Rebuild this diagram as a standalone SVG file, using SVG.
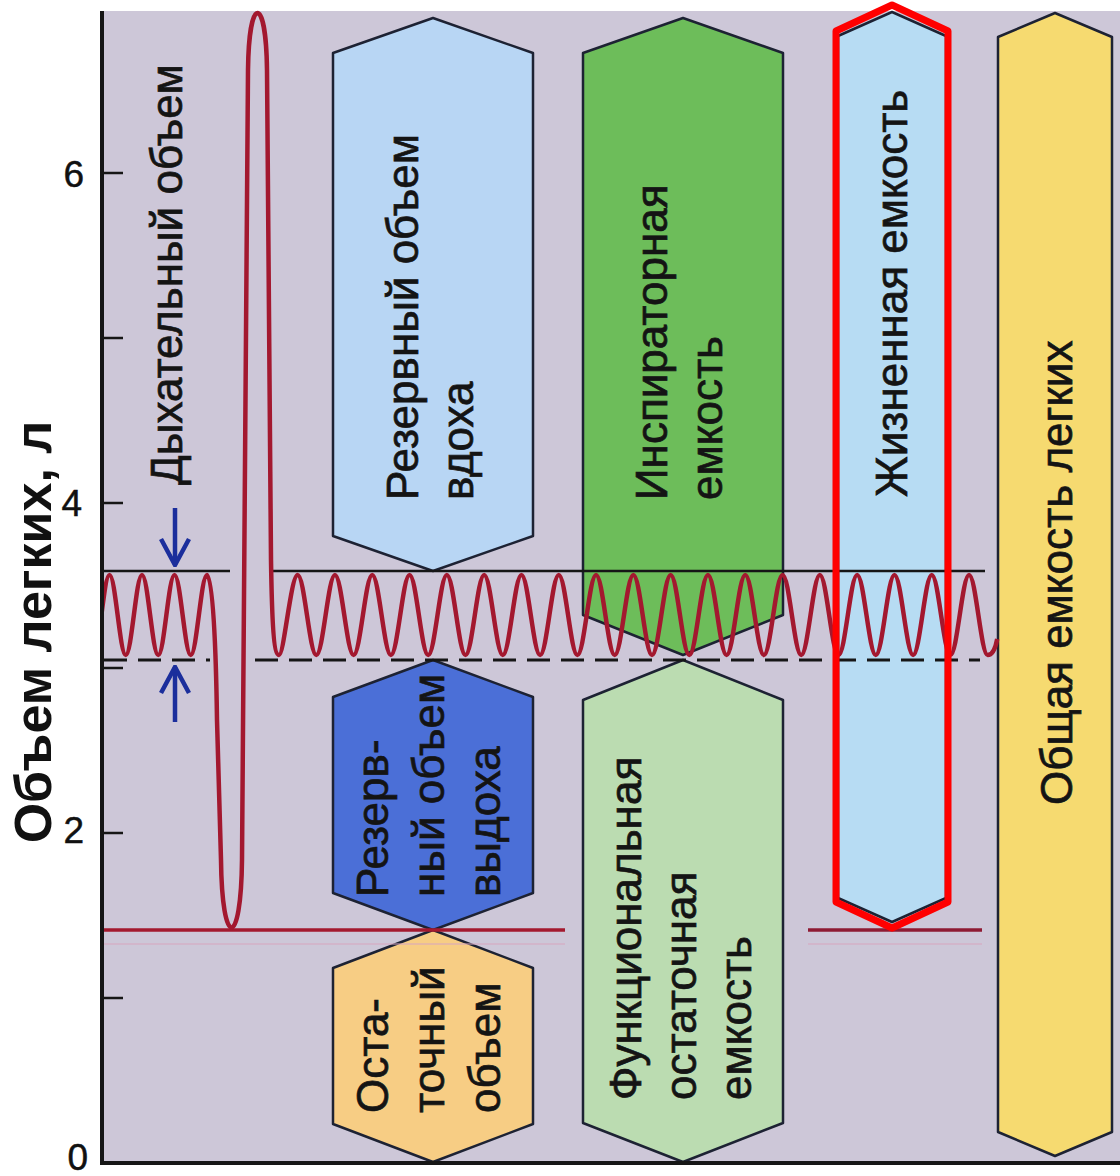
<svg xmlns="http://www.w3.org/2000/svg" width="1120" height="1176" viewBox="0 0 1120 1176">
<defs>
<style>
.hex{stroke:#1d2233;stroke-width:2.5;stroke-linejoin:round}
.lbl{font-family:"Liberation Sans",Arial,sans-serif;font-size:44px;fill:#141414;stroke:#141414;stroke-width:0.7}
.num{font-family:"Liberation Sans",Arial,sans-serif;font-size:37px;fill:#111;stroke:#111;stroke-width:0.5;text-anchor:end}
.title{font-family:"Liberation Sans",Arial,sans-serif;font-size:52px;font-weight:bold;fill:#111;text-anchor:middle}
.axis{stroke:#161616;stroke-width:4;fill:none}
.tick{stroke:#161616;stroke-width:2.5}
.arr{stroke:#1b2e9c;stroke-width:4.5;fill:none}
</style>
<clipPath id="plot"><rect x="102" y="0" width="1018" height="1176"/></clipPath>
<marker id="chev" viewBox="0 0 30 32" refX="28" refY="16" markerWidth="30" markerHeight="32" markerUnits="userSpaceOnUse" orient="auto">
<path d="M2,2 L28,16 L2,30" fill="none" stroke="#1b2e9c" stroke-width="4.5"/>
</marker>
</defs>
<rect x="0" y="0" width="1120" height="1176" fill="#ffffff"/>
<rect x="102" y="11" width="1018" height="1152" fill="#cdc7d8"/>

<g id="node-reserve-inspiratory">
<polygon class="hex" fill="#b8d6f4" points="433,18 533,53 533,536 433,571 333,536 333,53"/>
<text class="lbl" transform="translate(418,500) rotate(-90)"><tspan x="0" y="0">Резервный объем</tspan><tspan x="0" y="55">вдоха</tspan></text>
</g>
<g id="node-inspiratory-capacity">
<polygon class="hex" fill="#6dbd5a" points="683,18 783,53 783,615 683,655 583,615 583,53"/>
<text class="lbl" transform="translate(667,500) rotate(-90)"><tspan x="0" y="0">Инспираторная</tspan><tspan x="0" y="55">емкость</tspan></text>
</g>
<g id="node-reserve-expiratory">
<polygon class="hex" fill="#4b6fd7" points="433,660 533,697 533,893 433,930 333,893 333,697"/>
<text class="lbl" transform="translate(388,897) rotate(-90)"><tspan x="0" y="0">Резерв-</tspan><tspan x="0" y="56">ный объем</tspan><tspan x="0" y="112">выдоха</tspan></text>
</g>
<g id="node-functional-residual">
<polygon class="hex" fill="#bbdcb1" points="683,660 783,700 783,1123 683,1162 583,1123 583,700"/>
<text class="lbl" transform="translate(641,1100) rotate(-90)"><tspan x="0" y="0">Функциональная</tspan><tspan x="0" y="55">остаточная</tspan><tspan x="0" y="110">емкость</tspan></text>
</g>
<g id="node-residual">
<polygon class="hex" fill="#f7cd84" points="433,930 533,968 533,1124 433,1162 333,1124 333,968"/>
<text class="lbl" transform="translate(388,1113) rotate(-90)"><tspan x="0" y="0">Оста-</tspan><tspan x="0" y="56">точный</tspan><tspan x="0" y="112">объем</tspan></text>
</g>
<g id="node-vital-capacity">
<polygon class="hex" fill="#b7dcf3" points="892,12 946,36 946,898 892,922 838,898 838,36"/>
<text class="lbl" transform="translate(907,497) rotate(-90)">Жизненная емкость</text>
</g>
<g id="node-total-capacity">
<polygon class="hex" fill="#f6da70" points="1055,13 1112,37 1112,1132 1055,1156 998,1132 998,37"/>
<text class="lbl" transform="translate(1072,805) rotate(-90)">Общая емкость легких</text>
</g>

<g id="chart-lines">
<line x1="102" y1="571" x2="230" y2="571" stroke="#161616" stroke-width="2.5"/>
<line x1="271" y1="571" x2="985" y2="571" stroke="#161616" stroke-width="2.5"/>
<line x1="104" y1="660" x2="210" y2="660" stroke="#161616" stroke-width="3" stroke-dasharray="23,11"/>
<line x1="255" y1="660" x2="980" y2="660" stroke="#161616" stroke-width="3" stroke-dasharray="23,11"/>
<line x1="102" y1="944" x2="565" y2="944" stroke="#d7a6c0" stroke-width="2" opacity="0.5"/>
<line x1="808" y1="944" x2="982" y2="944" stroke="#d7a6c0" stroke-width="2" opacity="0.5"/>
<line x1="102" y1="930" x2="565" y2="930" stroke="#a3192f" stroke-width="3.5"/>
<line x1="808" y1="930" x2="982" y2="930" stroke="#8e1a33" stroke-width="3.5"/>
</g>

<g id="wave" clip-path="url(#plot)">
<path fill="none" stroke="#a3182f" stroke-width="4.5" stroke-linejoin="round" d="M93.25,655 C99.1,655 103.65,575 109.5,575
s10.4,80 16.25,80 s10.4,-80 16.25,-80
s10.4,80 16.25,80 s10.4,-80 16.25,-80
s10.4,80 16.25,80 s10.4,-80 16.25,-80
C213,575 216,650 217,720 L221,860 C222,950 241,950 242,860 L248,70 C249,-6 266,-6 267,70 L271,560 C272,625 274,655 279,655
s11.94,-80 18.65,-80 s11.94,80 18.65,80
s11.94,-80 18.65,-80 s11.94,80 18.65,80
s11.94,-80 18.65,-80 s11.94,80 18.65,80
s11.94,-80 18.65,-80 s11.94,80 18.65,80
s11.94,-80 18.65,-80 s11.94,80 18.65,80
s11.94,-80 18.65,-80 s11.94,80 18.65,80
s11.94,-80 18.65,-80 s11.94,80 18.65,80
s11.94,-80 18.65,-80 s11.94,80 18.65,80
s11.94,-80 18.65,-80 s11.94,80 18.65,80
s11.94,-80 18.65,-80 s11.94,80 18.65,80
s11.94,-80 18.65,-80 s11.94,80 18.65,80
s11.94,-80 18.65,-80 s11.94,80 18.65,80
s11.94,-80 18.65,-80 s11.94,80 18.65,80
s11.94,-80 18.65,-80 s11.94,80 18.65,80
s11.94,-80 18.65,-80 s11.94,80 18.65,80
s11.94,-80 18.65,-80 s11.94,80 18.65,80
s11.94,-80 18.65,-80 s11.94,80 18.65,80
s11.94,-80 18.65,-80 s11.94,80 18.65,80
s11.94,-80 18.65,-80 s11.94,80 18.65,80
c5,0 8,-8 9.5,-16"/>
</g>

<g id="connectors">
<line class="arr" x1="175" y1="508" x2="175" y2="565" marker-end="url(#chev)"/>
<line class="arr" x1="175" y1="722" x2="175" y2="667" marker-end="url(#chev)"/>
</g>

<g id="highlight">
<polygon fill="none" stroke="#ff0000" stroke-width="7" stroke-linejoin="round" points="892,5 948,31 948,902 892,928 836,902 836,31"/>
</g>

<g id="axes">
<line class="axis" x1="102" y1="11" x2="102" y2="1165"/>
<line class="axis" x1="100" y1="1163" x2="1120" y2="1163"/>
<line class="tick" x1="102" y1="173" x2="123" y2="173"/>
<line class="tick" x1="102" y1="338" x2="123" y2="338"/>
<line class="tick" x1="102" y1="503" x2="123" y2="503"/>
<line class="tick" x1="102" y1="668" x2="123" y2="668"/>
<line class="tick" x1="102" y1="833" x2="123" y2="833"/>
<line class="tick" x1="102" y1="998" x2="123" y2="998"/>
<text class="num" x="84" y="187">6</text>
<text class="num" x="82" y="516">4</text>
<text class="num" x="84" y="843">2</text>
<text class="num" x="88" y="1170">0</text>
<text class="title" transform="translate(51,632) rotate(-90)">Объем легких, л</text>
<text class="lbl" transform="translate(182,485) rotate(-90)">Дыхательный объем</text>
</g>
</svg>
